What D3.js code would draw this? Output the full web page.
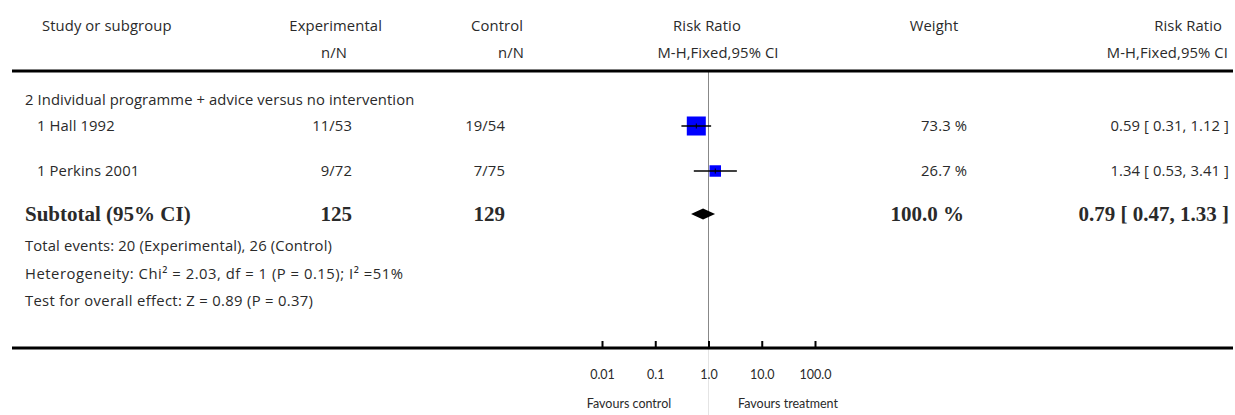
<!DOCTYPE html>
<html><head><meta charset="utf-8">
<script src="https://cdn.jsdelivr.net/npm/d3@7"></script>
<style>
html,body{margin:0;padding:0;background:#fff;}
svg{display:block;}
</style></head>
<body>
<script>
// ---- data ----
const groupTitle = "2 Individual programme + advice versus no intervention";
const studies = ["1 Hall 1992", "1 Perkins 2001"];
const expEvents = [11, 9];
const expTotals = [53, 72];
const ctrlEvents = [19, 7];
const ctrlTotals = [54, 75];
const riskRatios = [0.59, 1.34];
const ciLower = [0.31, 0.53];
const ciUpper = [1.12, 3.41];
const weights = [73.3, 26.7];
const subtotalRR = [0.79, 0.47, 1.33];
const subtotalN = [125, 129];
const subtotalWeight = 100.0;
const footLines = [
  "Total events: 20 (Experimental), 26 (Control)",
  "Heterogeneity: Chi\u00B2 = 2.03, df = 1 (P = 0.15); I\u00B2 =51%",
  "Test for overall effect: Z = 0.89 (P = 0.37)"
];
const tickValues = [0.01, 0.1, 1, 10, 100];
const tickLabels = ["0.01", "0.1", "1.0", "10.0", "100.0"];
const favours = ["Favours control", "Favours treatment"];

// ---- drawing ----
const W = 1235, H = 415;
const sans = "'Open Sans', Lato, sans-serif";
const smallSans = "Lato, 'Open Sans', sans-serif";
const serif = "'Liberation Serif', 'DejaVu Serif', serif";
const ink = "#2a2a2a";
const svg = d3.select("body").append("svg").attr("width", W).attr("height", H);

const x = d3.scaleLog().domain([0.01, 100]).range([602, 815]);
const rowY = d3.scalePoint().domain(studies).range([126, 171]);
const subY = 214;

function txt(s, px, py, anchor, opts = {}) {
  return svg.append("text").attr("x", px).attr("y", py)
    .attr("text-anchor", anchor || "start")
    .attr("font-family", opts.serif ? serif : (opts.family || sans))
    .attr("font-size", opts.size || 14.8)
    .attr("font-weight", opts.bold ? "bold" : "normal")
    .attr("letter-spacing", opts.ls != null ? opts.ls : (opts.serif ? 0 : 0.1))
    .attr("fill", ink).text(s);
}

// headers
txt("Study or subgroup", 42, 31);
txt("Experimental", 382, 31, "end");
txt("n/N", 347, 58, "end");
txt("Control", 523, 31, "end");
txt("n/N", 524, 58, "end");
txt("Risk Ratio", 707, 31, "middle");
txt("M-H,Fixed,95% CI", 718, 58, "middle");
txt("Weight", 934, 31, "middle");
txt("Risk Ratio", 1222, 31, "end");
txt("M-H,Fixed,95% CI", 1228, 58, "end");

// vertical reference line
svg.append("line").attr("x1", x(1)).attr("x2", x(1)).attr("y1", 72).attr("y2", 348)
  .attr("stroke", "#888").attr("stroke-width", 1);
svg.append("line").attr("x1", x(1)).attr("x2", x(1)).attr("y1", 348).attr("y2", H)
  .attr("stroke", "#e4e4e4").attr("stroke-width", 1);

// top rule
svg.append("line").attr("x1", 12).attr("x2", 1233).attr("y1", 71).attr("y2", 71)
  .attr("stroke", "#000").attr("stroke-width", 3);

// group title
txt(groupTitle, 25, 105);

// study rows
const fmt2 = d3.format(".2f");
studies.forEach((s, i) => {
  const y = rowY(s);
  txt(s, 37, y + 5);
  txt(expEvents[i] + "/" + expTotals[i], 352, y + 5, "end");
  txt(ctrlEvents[i] + "/" + ctrlTotals[i], 505, y + 5, "end");
  txt(weights[i].toFixed(1) + " %", 967, y + 5, "end");
  txt(fmt2(riskRatios[i]) + " [ " + fmt2(ciLower[i]) + ", " + fmt2(ciUpper[i]) + " ]", 1229, y + 5, "end");
  const side = 2.22 * Math.sqrt(weights[i]);
  svg.append("rect").attr("x", x(riskRatios[i]) - side / 2).attr("y", y - side / 2)
    .attr("width", side).attr("height", side).attr("fill", "#0000ff");
  svg.append("line").attr("x1", x(ciLower[i])).attr("x2", x(ciUpper[i]))
    .attr("y1", y).attr("y2", y).attr("stroke", "#000").attr("stroke-width", 1.5);
  svg.append("line").attr("x1", x(riskRatios[i])).attr("x2", x(riskRatios[i]))
    .attr("y1", y - 2.5).attr("y2", y + 2.5).attr("stroke", "#000").attr("stroke-width", 1);
});

// subtotal
const bs = {serif: true, bold: true, size: 21};
txt("Subtotal (95% CI)", 25, subY + 7, "start", bs);
txt(String(subtotalN[0]), 352, subY + 7, "end", bs);
txt(String(subtotalN[1]), 505, subY + 7, "end", bs);
txt(subtotalWeight.toFixed(1) + " %", 964, subY + 7, "end", bs);
txt(fmt2(subtotalRR[0]) + " [ " + fmt2(subtotalRR[1]) + ", " + fmt2(subtotalRR[2]) + " ]", 1229, subY + 7, "end", bs);
const dh = 5.5;
svg.append("path")
  .attr("d", `M${x(subtotalRR[1])},${subY} L${x(subtotalRR[0])},${subY - dh} L${x(subtotalRR[2])},${subY} L${x(subtotalRR[0])},${subY + dh} Z`)
  .attr("fill", "#000");

// footnotes
const footWidths = [307, 378, 288];
footLines.forEach((s, i) => txt(s, 25, 251 + i * 27.5)
  .attr("textLength", footWidths[i]).attr("lengthAdjust", "spacing"));

// bottom axis rule
svg.append("line").attr("x1", 12).attr("x2", 1233).attr("y1", 348).attr("y2", 348)
  .attr("stroke", "#000").attr("stroke-width", 3);

const axis = d3.axisBottom(x).tickValues(tickValues)
  .tickFormat((d, i) => tickLabels[i]).tickSizeInner(-7).tickSizeOuter(0).tickPadding(22);
const ag = svg.append("g").attr("transform", "translate(0,348)").call(axis);
ag.select(".domain").remove();
ag.selectAll(".tick line").attr("stroke", "#000").attr("stroke-width", 2);
ag.selectAll(".tick text").attr("font-family", smallSans).attr("font-size", 12.5).attr("fill", ink);

txt(favours[0], 629, 408, "middle", {size: 12.5, family: smallSans, ls: 0});
txt(favours[1], 788, 408, "middle", {size: 12.5, family: smallSans, ls: 0});
</script>
</body></html>
